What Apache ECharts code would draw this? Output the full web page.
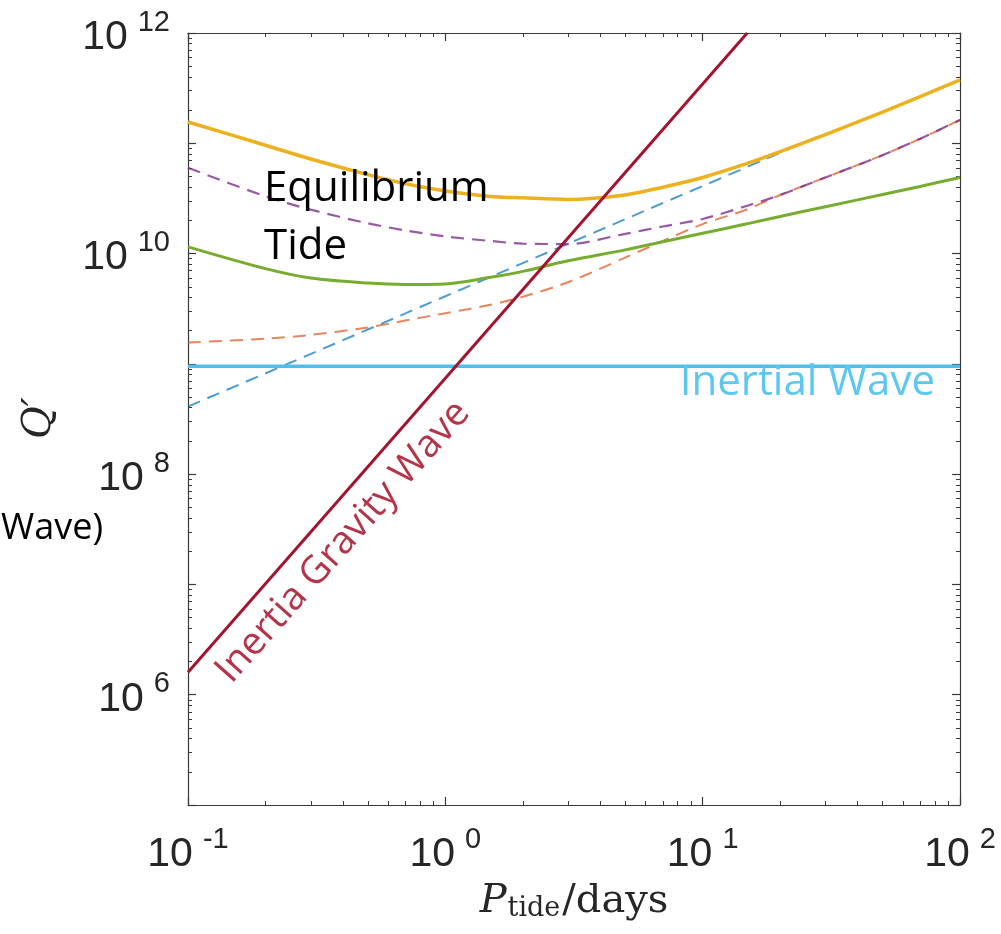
<!DOCTYPE html>
<html>
<head>
<meta charset="utf-8">
<script src="https://cdn.jsdelivr.net/npm/echarts@6/dist/echarts.min.js"></script>
<style>
  html, body { margin: 0; padding: 0; background: #ffffff; }
  #chart { width: 1001px; height: 934px; }
</style>
</head>
<body>
<div id="chart"></div>
<script>
// Tidal period (days) at which the curved components are sampled
const periods = [0.1, 0.2, 0.3, 0.5, 0.7, 1, 1.5, 2, 3, 5, 7, 10, 15, 20, 30, 50, 70, 100];

// Solid curves: total (yellow) and equilibrium-tide component (green)
const qYellow = [1.56e11, 9.6e10, 7.2e10, 5.2e10, 4.3e10, 3.7e10, 3.3e10, 3.2e10, 3.1e10, 3.4e10, 4.0e10, 4.9e10, 6.6e10, 8.4e10, 1.20e11, 1.92e11, 2.65e11, 3.75e11];
const qGreen  = [1.15e10, 7.3e9, 6.0e9, 5.4e9, 5.25e9, 5.3e9, 6.1e9, 6.9e9, 8.6e9, 1.08e10, 1.28e10, 1.53e10, 1.87e10, 2.17e10, 2.66e10, 3.43e10, 4.06e10, 4.9e10];

// Dashed curves
const qPurple = [6.0e10, 3.3e10, 2.5e10, 1.88e10, 1.62e10, 1.43e10, 1.30e10, 1.23e10, 1.22e10, 1.51e10, 1.76e10, 2.06e10, 2.73e10, 3.4e10, 4.9e10, 7.8e10, 1.10e11, 1.63e11];
const qOrange = [1.56e9, 1.69e9, 1.83e9, 2.14e9, 2.47e9, 2.88e9, 3.43e9, 4.06e9, 5.5e9, 9.2e9, 1.30e10, 1.85e10, 2.53e10, 3.4e10, 4.9e10, 7.8e10, 1.10e11, 1.63e11];

// Power laws (straight in log-log)
const blueP = [0.1, 1, 10, 30];
const blueQ = [4.1e8, 4.1e9, 4.1e10, 1.23e11];
const inertialP = [0.1, 100];
const inertialQ = [9.5e8, 9.5e8];
const gravityP = [0.1, 1, 14.9];
const gravityQ = [1.6e6, 7.4e8, 1.0e12];

// Decades that carry a tick label
const xLabelExp = [-1, 0, 1, 2];
const yLabelExp = [6, 8, 10, 12];
const minorMantissa = [2, 3, 4, 5, 6, 7, 8, 9];

function pairs(xs, ys) { return xs.map((x, i) => [x, ys[i]]); }
function minorLogs(d0, d1) {
  const out = [];
  for (let d = d0; d < d1; d++) minorMantissa.forEach(m => out.push(d + Math.log10(m)));
  return out;
}

const AX = '#3a3a3a';
const TXT = '#262626';
const labelRich = {
  b: { fontFamily: 'Liberation Sans', fontSize: 41, lineHeight: 50, color: TXT, verticalAlign: 'bottom' },
  e: { fontFamily: 'Liberation Sans', fontSize: 29, lineHeight: 29, color: TXT, verticalAlign: 'top', padding: [0, 0, 0, 10] }
};
function powLabel(list) {
  return function (v) {
    const e = Math.round(Math.log10(v));
    return list.indexOf(e) >= 0 ? '{b|10}{e|' + e + '}' : '';
  };
}

const logAxisBase = {
  type: 'log', logBase: 10, gridIndex: 0,
  axisLine: { show: true, onZero: false, lineStyle: { color: AX, width: 1.2 } },
  axisTick: { show: true, inside: true, length: 8, lineStyle: { color: AX, width: 1.2 } },
  splitLine: { show: false }, minorTick: { show: false }, minorSplitLine: { show: false }
};
const minorTickStyle = { show: true, inside: true, length: 4, lineStyle: { color: AX, width: 1 } };
const minorAxisBase = {
  type: 'value', gridIndex: 0,
  axisLine: { show: false, onZero: false }, axisLabel: { show: false }, splitLine: { show: false },
  axisPointer: { show: false }
};

const chart = echarts.init(document.getElementById('chart'), null, { renderer: 'canvas' });

chart.setOption({
  animation: false,
  backgroundColor: '#ffffff',
  grid: { left: 188, top: 33, width: 772, height: 772, containLabel: false },
  xAxis: [
    Object.assign({}, logAxisBase, {
      position: 'bottom', min: 0.1, max: 100,
      axisLabel: { show: true, margin: 20, formatter: powLabel(xLabelExp), rich: labelRich, showMinLabel: true, showMaxLabel: true },
      name: '{p|P}{s|tide}{n|/days}', nameLocation: 'middle', nameGap: 69,
      nameTextStyle: {
        rich: {
          p: { fontFamily: 'DejaVu Serif', fontStyle: 'italic', fontSize: 40, color: TXT, lineHeight: 48, verticalAlign: 'bottom' },
          s: { fontFamily: 'DejaVu Serif', fontSize: 27, color: TXT, lineHeight: 26, verticalAlign: 'bottom', padding: [0, 2, 0, 1] },
          n: { fontFamily: 'DejaVu Serif', fontSize: 40, color: TXT, lineHeight: 48, verticalAlign: 'bottom' }
        }
      }
    }),
    Object.assign({}, logAxisBase, { position: 'top', min: 0.1, max: 100, axisLabel: { show: false } }),
    Object.assign({}, minorAxisBase, { position: 'bottom', min: -1, max: 2,
      axisTick: Object.assign({ customValues: minorLogs(-1, 2) }, minorTickStyle) }),
    Object.assign({}, minorAxisBase, { position: 'top', min: -1, max: 2,
      axisTick: Object.assign({ customValues: minorLogs(-1, 2) }, minorTickStyle) })
  ],
  yAxis: [
    Object.assign({}, logAxisBase, {
      position: 'left', min: 1e5, max: 1e12,
      axisLabel: { show: true, margin: 18, formatter: powLabel(yLabelExp), rich: labelRich, showMinLabel: true, showMaxLabel: true }
    }),
    Object.assign({}, logAxisBase, { position: 'right', min: 1e5, max: 1e12, axisLabel: { show: false } }),
    Object.assign({}, minorAxisBase, { position: 'left', min: 5, max: 12,
      axisTick: Object.assign({ customValues: minorLogs(5, 12) }, minorTickStyle) }),
    Object.assign({}, minorAxisBase, { position: 'right', min: 5, max: 12,
      axisTick: Object.assign({ customValues: minorLogs(5, 12) }, minorTickStyle) })
  ],
  series: [
    { type: 'line', name: 'blue', data: pairs(blueP, blueQ), showSymbol: false, silent: true,
      lineStyle: { color: '#0072BD', opacity: 0.7, width: 2, type: [13, 8] } },
    { type: 'line', name: 'orange', data: pairs(periods, qOrange), showSymbol: false, silent: true, smooth: 0.3,
      lineStyle: { color: '#D95319', opacity: 0.7, width: 2, type: [13, 8] } },
    { type: 'line', name: 'purple', data: pairs(periods, qPurple), showSymbol: false, silent: true, smooth: 0.3,
      lineStyle: { color: '#7E2F8E', opacity: 0.8, width: 2.2, type: [13, 8] } },
    { type: 'line', name: 'green', data: pairs(periods, qGreen), showSymbol: false, silent: true, smooth: 0.3,
      lineStyle: { color: '#77AC30', width: 3 } },
    { type: 'line', name: 'yellow', data: pairs(periods, qYellow), showSymbol: false, silent: true, smooth: 0.3,
      lineStyle: { color: '#EDB120', width: 3.5 } },
    { type: 'line', name: 'inertial', data: pairs(inertialP, inertialQ), showSymbol: false, silent: true,
      lineStyle: { color: '#4DBEEE', width: 3.5 } },
    { type: 'line', name: 'gravity', data: pairs(gravityP, gravityQ), showSymbol: false, silent: true,
      lineStyle: { color: '#A2142F', width: 3 } }
  ],
  graphic: [
    { type: 'text', x: 264, y: 160, z: 100,
      style: { text: 'Equilibrium\nTide', fontFamily: 'Open Sans', fontSize: 42, fill: '#000000', lineHeight: 58,
               align: 'left', verticalAlign: 'top', textAlign: 'left', textVerticalAlign: 'top' } },
    { type: 'text', x: 935, y: 383, z: 100,
      style: { text: 'Inertial Wave', fontFamily: 'Open Sans', fontSize: 42, fill: '#5CC8EF',
               align: 'right', verticalAlign: 'middle', textAlign: 'right', textVerticalAlign: 'middle' } },
    { type: 'text', x: 343, y: 542, z: 100, rotation: 48.5 * Math.PI / 180,
      style: { text: 'Inertia Gravity Wave', fontFamily: 'Open Sans', fontSize: 38.5, fill: '#B3354A',
               align: 'center', verticalAlign: 'middle', textAlign: 'center', textVerticalAlign: 'middle' } },
    { type: 'text', x: 103, y: 529, z: 100,
      style: { text: 'Wave)', fontFamily: 'Open Sans', fontSize: 36, fill: '#000000',
               align: 'right', verticalAlign: 'middle', textAlign: 'right', textVerticalAlign: 'middle' } },
    { type: 'text', x: 40, y: 418, z: 100, rotation: Math.PI / 2,
      style: { text: 'Q\u2032', fontFamily: 'DejaVu Serif', fontStyle: 'italic', fontSize: 40, fill: TXT,
               align: 'center', verticalAlign: 'middle', textAlign: 'center', textVerticalAlign: 'middle' } }
  ]
});
</script>
</body>
</html>
